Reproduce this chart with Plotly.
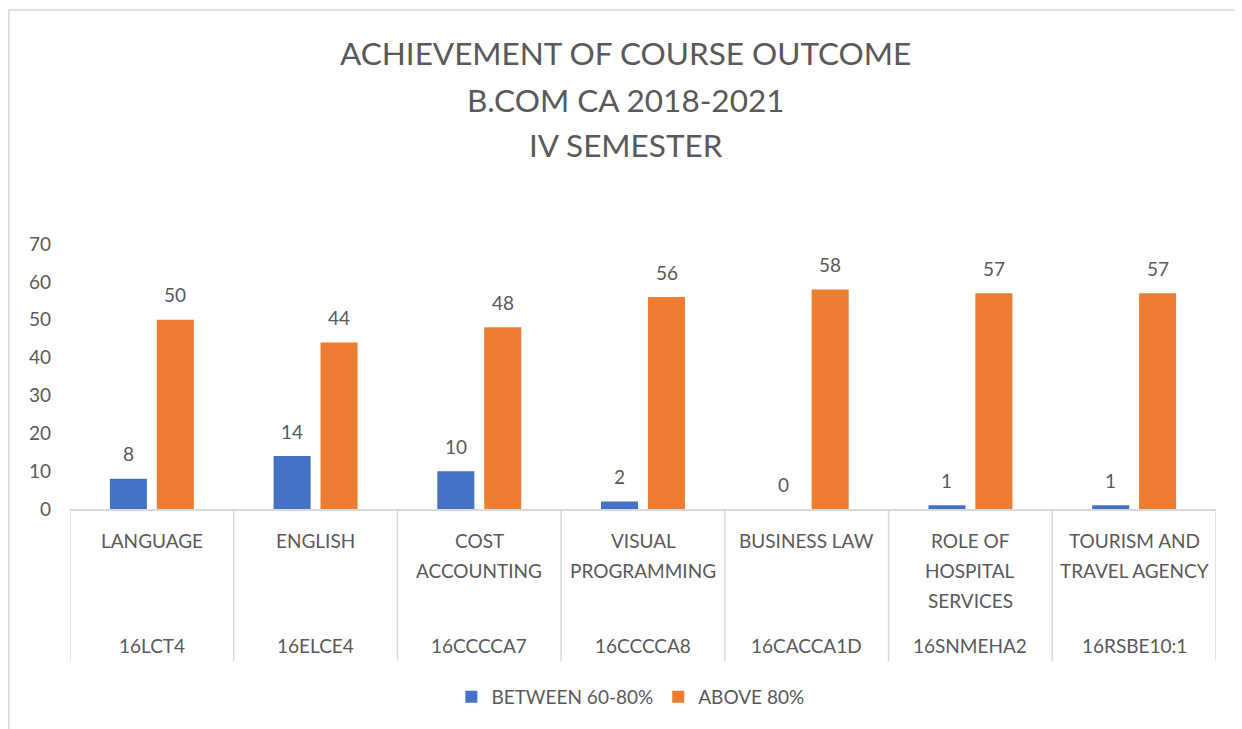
import plotly.graph_objects as go

# ---- data ----
subjects = ["LANGUAGE", "ENGLISH", "COST<br>ACCOUNTING", "VISUAL<br>PROGRAMMING",
            "BUSINESS LAW", "ROLE OF<br>HOSPITAL<br>SERVICES", "TOURISM AND<br>TRAVEL AGENCY"]
codes = ["16LCT4", "16ELCE4", "16CCCCA7", "16CCCCA8", "16CACCA1D", "16SNMEHA2", "16RSBE10:1"]
between_60_80 = [8, 14, 10, 2, 0, 1, 1]
above_80 = [50, 44, 48, 56, 58, 57, 57]
series_names = ["BETWEEN 60-80%", "ABOVE 80%"]
title_lines = ["ACHIEVEMENT OF COURSE OUTCOME", "B.COM CA 2018-2021", "IV SEMESTER"]
y_ticks = [0, 10, 20, 30, 40, 50, 60, 70]

FONT = "Lato"
TXT = "#595959"
BLUE = "#4472C4"
ORANGE = "#ED7D31"
GRID = "#D9D9D9"

PW = 1146  # plot width px
PH = 265   # plot height px

cats = codes  # unique category keys
fig = go.Figure()
fig.add_trace(go.Bar(x=cats, y=between_60_80, name=series_names[0], marker_color=BLUE,
                     marker_line_width=0))
fig.add_trace(go.Bar(x=cats, y=above_80, name=series_names[1], marker_color=ORANGE,
                     marker_line_width=0))

annotations = []
# data labels
for vals, dx in ((between_60_80, -23.5), (above_80, 23.5)):
    for c, v in zip(cats, vals):
        annotations.append(dict(x=c, y=v, xref="x", yref="y", text=str(v), showarrow=False,
                                xshift=dx, yshift=25, font=dict(family=FONT, size=19, color=TXT)))
# category labels (two levels)
for c, name, code in zip(cats, subjects, codes):
    for k, line in enumerate(name.split("<br>")):
        annotations.append(dict(x=c, y=0, xref="x", yref="paper", text=line, showarrow=False,
                                yanchor="middle", yshift=-31 - 30 * k,
                                font=dict(family=FONT, size=19, color=TXT)))
    annotations.append(dict(x=c, y=0, xref="x", yref="paper", text=code, showarrow=False,
                            yanchor="middle", yshift=-136, font=dict(family=FONT, size=19, color=TXT)))
# title
for k, (line, ys) in enumerate(zip(title_lines, (191, 144, 99))):
    annotations.append(dict(x=0.485, y=1, xref="paper", yref="paper", text=line, showarrow=False,
                            yanchor="middle", yshift=ys, font=dict(family=FONT, size=31.5, color=TXT)))

shapes = []
n = len(cats)
for i in range(n + 1):
    shapes.append(dict(type="line", xref="x", yref="paper", x0=i - 0.5, x1=i - 0.5,
                       y0=0, y1=-152 / PH, line=dict(color=GRID, width=1.5)))
# chart border (top and left visible)
bx = -61.2 / PW
by = 1 + 234 / PH
shapes.append(dict(type="line", xref="paper", yref="paper", x0=bx, x1=1.2,
                   y0=by, y1=by, line=dict(color=GRID, width=1.5)))
shapes.append(dict(type="line", xref="paper", yref="paper", x0=bx, x1=bx,
                   y0=by, y1=-1, line=dict(color=GRID, width=1.5)))

fig.update_layout(
    width=1242, height=729,
    margin=dict(l=62, r=34, t=236, b=228),
    paper_bgcolor="white", plot_bgcolor="white",
    barmode="group", bargap=0.427, bargroupgap=0.21,
    font=dict(family=FONT, size=19, color=TXT),
    xaxis=dict(type="category", range=[-0.5, n - 0.5], showticklabels=False, ticks="",
               showgrid=False, showline=True, linecolor=GRID, linewidth=1.5, zeroline=False),
    yaxis=dict(range=[0, 70], tickvals=y_ticks, showgrid=False, zeroline=False, showline=False,
               ticks="", ticklabelstandoff=18, tickfont=dict(family=FONT, size=19, color=TXT)),
    legend=dict(orientation="h", x=0.489, xanchor="center", y=-0.709, yanchor="middle",
                font=dict(family=FONT, size=19, color=TXT), itemwidth=30, traceorder="normal"),
    annotations=annotations, shapes=shapes, showlegend=True,
)
fig.write_html("out.html")
